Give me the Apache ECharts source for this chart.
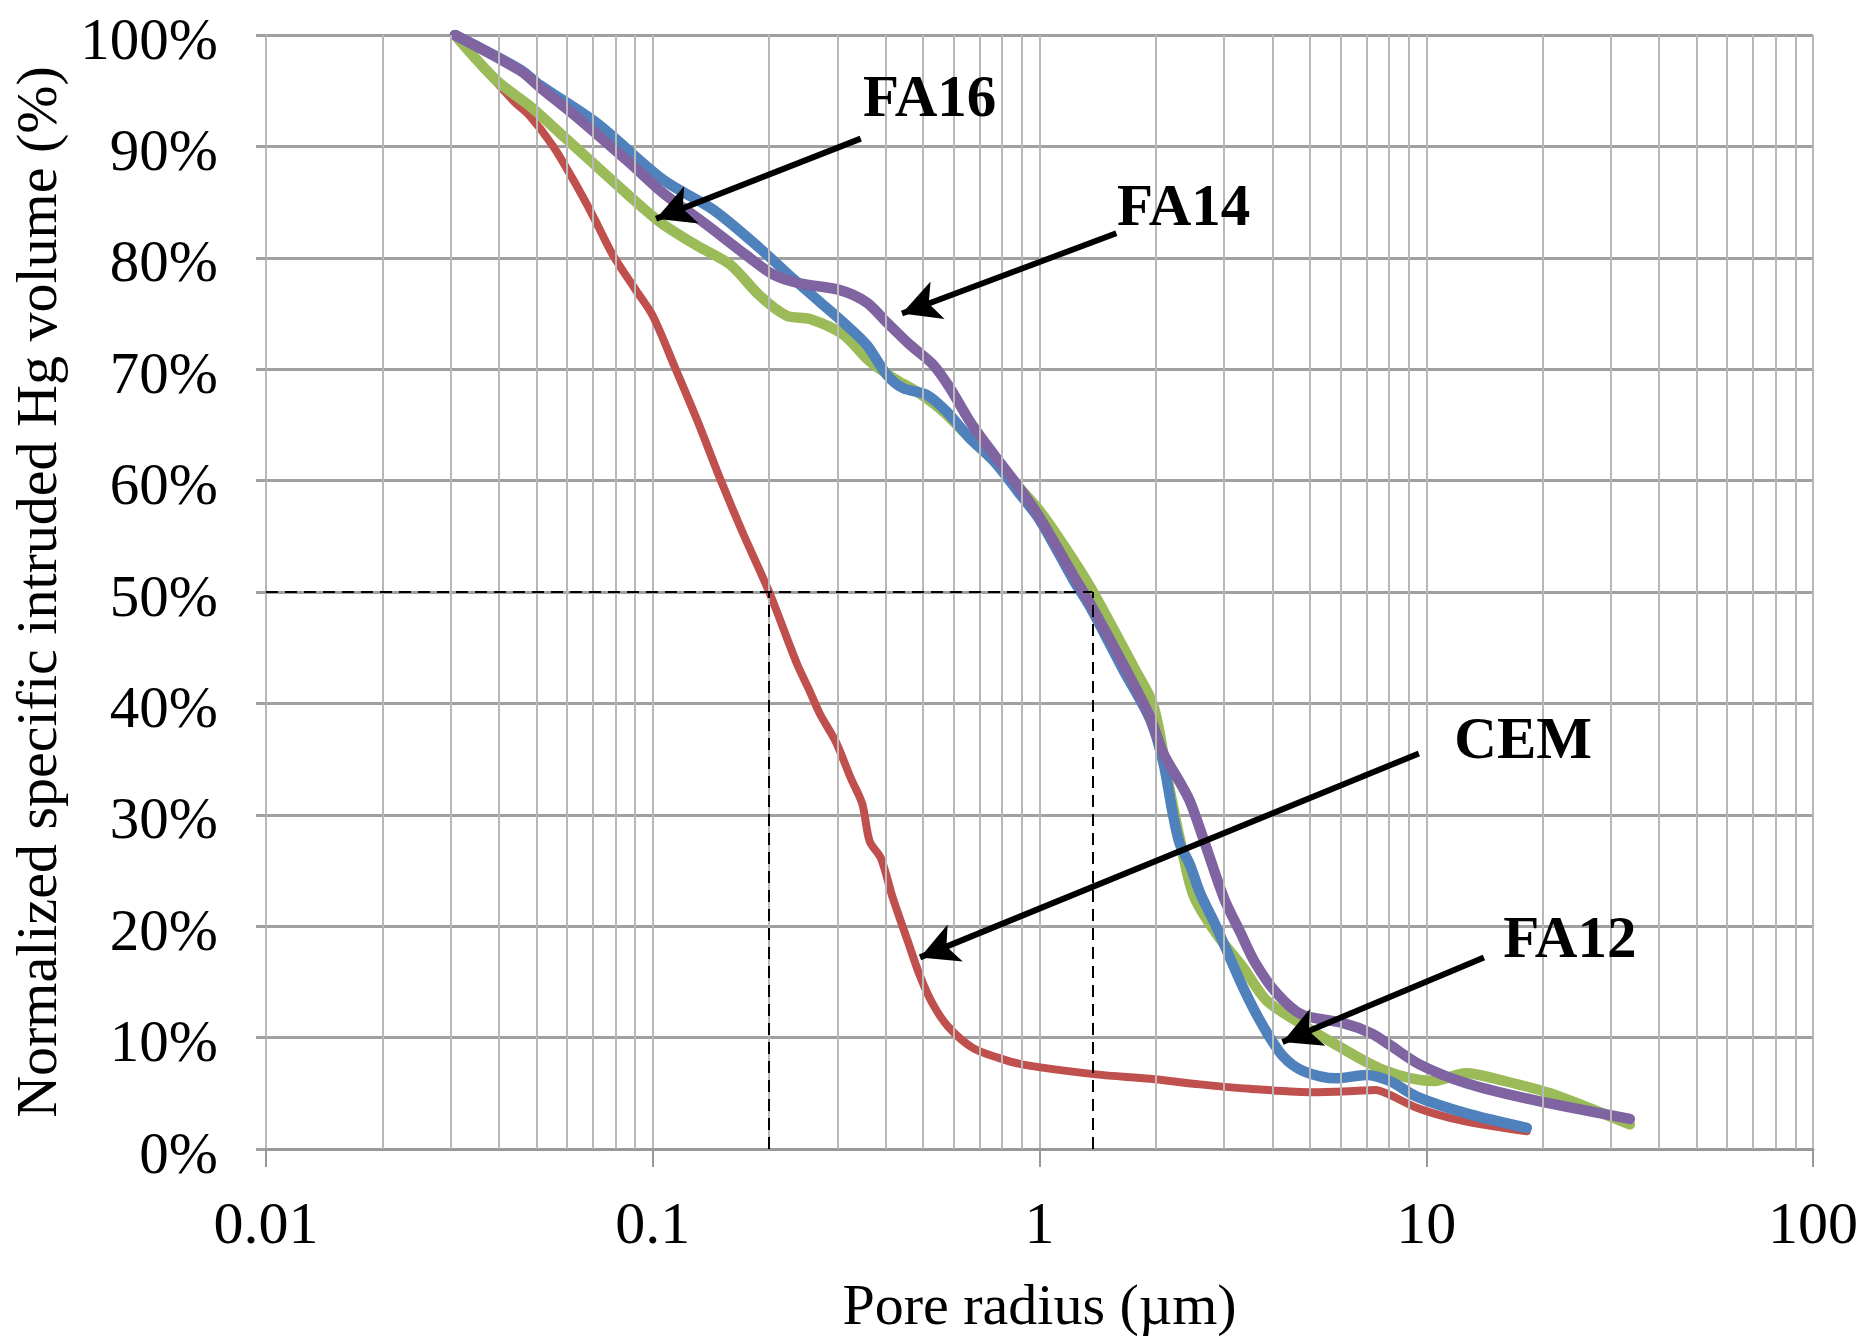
<!DOCTYPE html>
<html>
<head>
<meta charset="utf-8">
<script src="https://cdn.jsdelivr.net/npm/echarts@6/dist/echarts.min.js"></script>
<style>
  html, body { margin: 0; padding: 0; background: #fff; }
  #main { width: 1862px; height: 1343px; }
</style>
</head>
<body>
<div id="main"></div>
<script>
// pore radius (um) / normalized intruded Hg volume (%)
var cemRadius = [0.0308, 0.0436, 0.0482, 0.0553, 0.0623, 0.0702, 0.079, 0.09, 0.1, 0.114, 0.13, 0.15, 0.17, 0.2, 0.221, 0.237, 0.253, 0.271, 0.297, 0.325, 0.348, 0.364, 0.389, 0.417, 0.456, 0.49, 0.53, 0.58, 0.67, 0.78, 0.9, 1.4, 1.93, 2.6, 3.5, 5.0, 6.5, 7.4, 8.0, 9.45, 11.5, 14, 18.2];
var cemVolume = [100, 94.1, 92.7, 90.0, 87.0, 83.7, 80.2, 77.2, 74.8, 70.2, 65.5, 60, 55.5, 50, 46.1, 43.4, 41.3, 39.0, 36.6, 33.3, 31.0, 27.6, 26.1, 22.6, 18.7, 15.6, 13, 11, 9.1, 8.2, 7.6, 6.7, 6.3, 5.8, 5.4, 5.1, 5.2, 5.3, 4.9, 3.7, 2.8, 2.2, 1.6];

var fa12Radius = [0.0308, 0.0454, 0.0511, 0.0716, 0.1064, 0.1435, 0.19, 0.231, 0.265, 0.311, 0.357, 0.403, 0.444, 0.511, 0.575, 0.661, 0.76, 0.88, 1.0, 1.223, 1.35, 1.647, 1.93, 2.09, 2.2, 2.3, 2.45, 2.6, 2.87, 3.36, 3.79, 4.27, 4.81, 5.87, 7.0, 8.05, 9.45, 12.7, 18.2];
var fa12Volume = [100, 96.9, 95.5, 92.1, 87.0, 84.3, 80.8, 78.1, 76.3, 74.2, 72.2, 69.5, 68.3, 67.7, 66.2, 63.8, 61.8, 59, 56.5, 51.1, 48.7, 43.0, 38.6, 34.7, 30.5, 27.5, 25.5, 23, 19.9, 14.5, 11.0, 8.3, 7.0, 6.35, 6.65, 6.1, 4.7, 3.2, 1.9];

var fa14Radius = [0.0308, 0.0454, 0.0511, 0.0648, 0.0873, 0.1064, 0.135, 0.175, 0.205, 0.24, 0.305, 0.357, 0.403, 0.462, 0.531, 0.587, 0.661, 0.76, 0.88, 1.0, 1.223, 1.35, 1.647, 1.93, 2.09, 2.3, 2.45, 2.65, 3.0, 3.3, 3.6, 4.1, 4.75, 6.1, 7.2, 8.0, 9.6, 12.7, 18.9, 33.6];
var fa14Volume = [100, 96.8, 95.3, 92.4, 88.5, 85.8, 83.2, 80.2, 78.5, 77.7, 77.1, 76.0, 74.2, 72.2, 70.4, 68.3, 65.3, 62.4, 59.5, 56.7, 51.5, 49.0, 43.5, 38.8, 35.5, 33, 31.2, 27.9, 22.5, 19.5, 16.8, 14.0, 12.1, 11.3, 10.4, 9.4, 7.6, 5.9, 4.4, 2.7];

var fa16Radius = [0.0308, 0.0395, 0.0482, 0.0588, 0.0716, 0.0873, 0.1045, 0.13, 0.1585, 0.189, 0.222, 0.255, 0.311, 0.364, 0.419, 0.481, 0.564, 0.648, 0.76, 0.88, 1.0, 1.15, 1.35, 1.75, 1.97, 2.15, 2.3, 2.5, 2.87, 3.36, 3.87, 4.72, 5.75, 7.74, 10.4, 12.7, 15.5, 20.9, 33.6];
var fa16Volume = [100, 95.9, 93.6, 90.9, 88.2, 85.5, 83.2, 81.1, 79.4, 76.6, 74.8, 74.5, 73.1, 70.7, 69.2, 68.0, 66.2, 64.1, 61.8, 59.5, 57.3, 54.3, 50.5, 43.3, 39.8, 33, 28, 22.8, 19.3, 16.3, 13.3, 11.3, 9.5, 7.1, 6.1, 6.8, 6.2, 5.0, 2.2];

// d50 guide lines
var d50Cem = 0.2;
var d50Fa = 1.37;

// minor log gridlines
var decades = [0.01, 0.1, 1, 10];
var minorSteps = [2, 3, 4, 5, 6, 7, 8, 9];

// annotations: label position, arrow start, arrow tip
var labels = [
    { name: 'FA16', at: [0.52, 94.1], from: [0.345, 90.7], to: [0.102, 83.5] },
    { name: 'FA14', at: [2.36, 84.3], from: [1.58, 82.2], to: [0.441, 75.0] },
    { name: 'CEM', at: [17.8, 36.5], from: [9.57, 35.5], to: [0.491, 17.2] },
    { name: 'FA12', at: [23.5, 18.6], from: [14.1, 17.2], to: [4.25, 9.6] }
];

function pairs(xs, ys) {
    return xs.map(function (x, i) { return [x, ys[i]]; });
}

var FONT = 'Liberation Serif';
var gridGray = '#a0a0a0';
var minorGray = '#b8b8b8';

var minorLines = [];
decades.forEach(function (d) {
    minorSteps.forEach(function (m) {
        minorLines.push({ xAxis: +(d * m).toPrecision(3) });
    });
});

var myChart = echarts.init(document.getElementById('main'));

function curve(name, xs, ys, color, width) {
    return {
        name: name,
        type: 'line',
        data: pairs(xs, ys),
        showSymbol: false,
        smooth: 0.3,
        z: 3,
        lineStyle: { color: color, width: width, cap: 'round', join: 'round' }
    };
}

myChart.setOption({
    backgroundColor: '#fff',
    animation: false,
    tooltip: { show: false },
    grid: { left: 266, right: 49, top: 35, bottom: 191 },
    xAxis: {
        type: 'log',
        logBase: 10,
        min: 0.01,
        max: 100,
        name: 'Pore radius (µm)',
        nameLocation: 'middle',
        nameGap: 131,
        nameTextStyle: { fontFamily: FONT, fontSize: 58, color: '#000' },
        axisLine: { show: true, lineStyle: { color: '#999', width: 3 } },
        axisTick: { show: true, length: 18, lineStyle: { color: '#999', width: 2 } },
        axisLabel: {
            fontFamily: FONT, fontSize: 60, color: '#000', margin: 48,
            formatter: function (v) { return String(+Number(v).toPrecision(6)); }
        },
        splitLine: { show: true, lineStyle: { color: minorGray, width: 2 } },
        minorTick: { show: false },
        minorSplitLine: { show: false }
    },
    yAxis: {
        type: 'value',
        min: 0,
        max: 100,
        interval: 10,
        name: 'Normalized specific intruded Hg volume (%)',
        nameLocation: 'middle',
        nameGap: 192,
        nameTextStyle: { fontFamily: FONT, fontSize: 58, color: '#000' },
        axisLine: { show: true, lineStyle: { color: minorGray, width: 2 } },
        axisTick: { show: true, length: 10, lineStyle: { color: gridGray, width: 3 } },
        axisLabel: {
            margin: 48,
            formatter: '{p|{value}%}',
            rich: {
                p: { fontFamily: FONT, fontSize: 59, color: '#000', padding: [16, 0, 0, 0] }
            }
        },
        splitLine: { show: true, lineStyle: { color: gridGray, width: 3 } }
    },
    series: [
        {
            name: 'grid',
            type: 'line',
            data: [],
            z: 1,
            silent: true,
            markLine: {
                silent: true,
                symbol: 'none',
                label: { show: false },
                lineStyle: { color: minorGray, width: 2, type: 'solid' },
                data: minorLines
            }
        },
        {
            name: 'd50',
            type: 'line',
            data: [],
            z: 2,
            silent: true,
            markLine: {
                silent: true,
                symbol: 'none',
                label: { show: false },
                lineStyle: { color: '#000', width: 2, type: [12, 7] },
                data: [
                    [{ coord: [0.01, 50] }, { coord: [d50Fa, 50] }],
                    [{ coord: [d50Cem, 0] }, { coord: [d50Cem, 50] }],
                    [{ coord: [d50Fa, 0] }, { coord: [d50Fa, 50] }]
                ]
            }
        },
        curve('CEM', cemRadius, cemVolume, '#C0504D', 8),
        curve('FA16', fa16Radius, fa16Volume, '#9BBB59', 10.5),
        curve('FA12', fa12Radius, fa12Volume, '#4F81BD', 10.5),
        curve('FA14', fa14Radius, fa14Volume, '#8064A2', 10.5),
        {
            name: 'labels',
            type: 'line',
            data: [],
            z: 5,
            silent: true,
            markLine: {
                silent: true,
                symbol: ['none', 'arrow'],
                symbolSize: [30, 38],
                label: { show: false },
                lineStyle: { color: '#000', width: 6, type: 'solid' },
                data: labels.map(function (l) {
                    return [{ coord: l.from }, { coord: l.to }];
                })
            },
            markPoint: {
                silent: true,
                symbol: 'circle',
                symbolSize: 1,
                itemStyle: { color: 'rgba(0,0,0,0)' },
                label: {
                    show: true,
                    position: 'inside',
                    formatter: '{b}',
                    fontFamily: FONT,
                    fontWeight: 'bold',
                    fontSize: 59,
                    color: '#000'
                },
                data: labels.map(function (l) {
                    return { name: l.name, coord: l.at };
                })
            }
        }
    ]
});
</script>
</body>
</html>
